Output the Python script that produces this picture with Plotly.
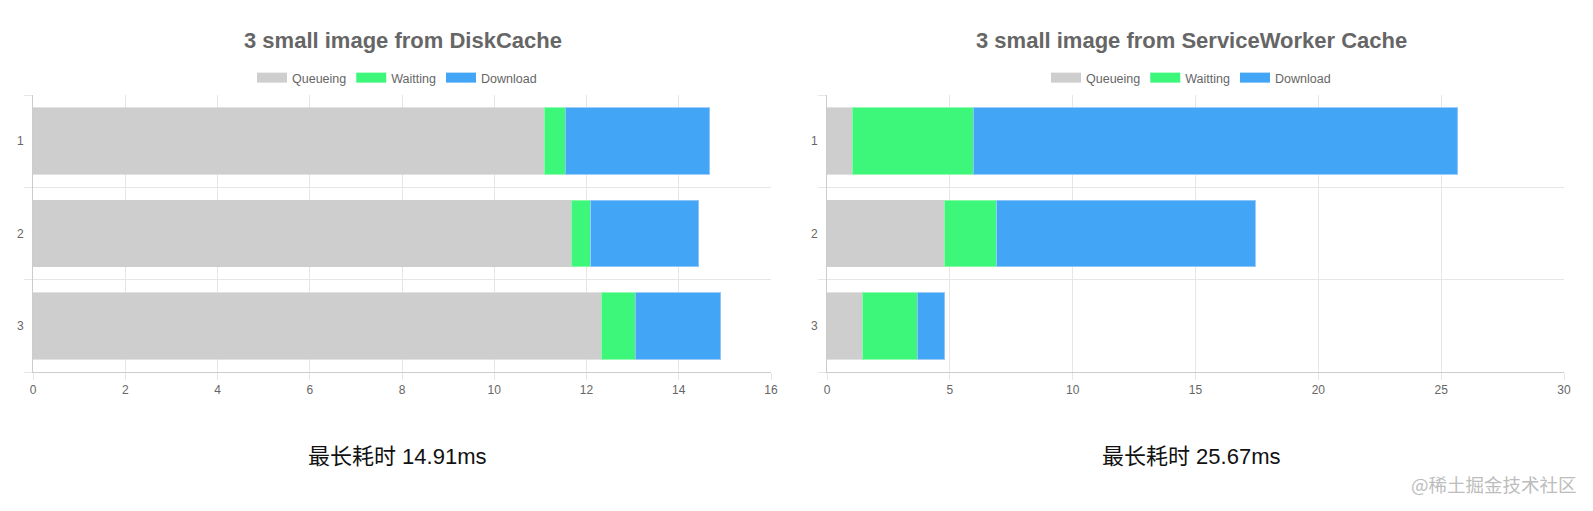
import plotly.graph_objects as go

categories = [1, 2, 3]
series_names = ["Queueing", "Waitting", "Download"]
colors = ["#cecece", "#3cf77a", "#42a5f5"]
border_colors = ["rgba(206,206,206,0.6)", "rgba(140,250,170,0.9)", "rgba(150,200,250,0.9)"]

# Left chart: DiskCache (segment durations, ms)
disk_queueing = [11.08, 11.67, 12.33]
disk_waitting = [0.46, 0.42, 0.73]
disk_download = [3.13, 2.34, 1.85]

# Right chart: ServiceWorker Cache (segment durations, ms)
sw_queueing = [1.03, 4.79, 1.45]
sw_waitting = [4.92, 2.11, 2.23]
sw_download = [19.72, 10.54, 1.11]

left_title = "3 small image from DiskCache"
right_title = "3 small image from ServiceWorker Cache"
left_caption = "最长耗时 14.91ms"
right_caption = "最长耗时 25.67ms"
watermark = "@稀土掘金技术社区"

left_ticks = [0, 2, 4, 6, 8, 10, 12, 14, 16]
right_ticks = [0, 5, 10, 15, 20, 25, 30]
band_edges = [0.5, 1.5, 2.5, 3.5]

FONT = "Liberation Sans, Helvetica, Arial, sans-serif"
CJK = "Liberation Sans, Noto Sans CJK SC, sans-serif"
GRID = "#e6e6e6"
TXT = "#666666"

fig = go.Figure()

for name, vals, col, bcol in zip(series_names, [disk_queueing, disk_waitting, disk_download], colors, border_colors):
    fig.add_trace(go.Bar(y=categories, x=vals, orientation="h", name=name,
                         marker=dict(color=col, line=dict(color=bcol, width=1)),
                         width=0.72, xaxis="x", yaxis="y", showlegend=False))
for name, vals, col, bcol in zip(series_names, [sw_queueing, sw_waitting, sw_download], colors, border_colors):
    fig.add_trace(go.Bar(y=categories, x=vals, orientation="h", name=name,
                         marker=dict(color=col, line=dict(color=bcol, width=1)),
                         width=0.72, xaxis="x2", yaxis="y2", showlegend=False))

# legend entries (wide colour boxes like the reference)
for lg in ["legend", "legend2"]:
    for name, col in zip(series_names, colors):
        fig.add_trace(go.Scatter(x=[None], y=[None], mode="lines", name=name,
                                 line=dict(color=col, width=12),
                                 xaxis="x" if lg == "legend" else "x2",
                                 yaxis="y" if lg == "legend" else "y2",
                                 legend=lg, showlegend=True))

W, H = 1593, 511
ydom = [(H - 372) / H, (H - 95) / H]

def xaxis(dom, rng, ticks, anchor):
    return dict(domain=dom, range=rng, tickvals=ticks, showgrid=True, gridcolor=GRID,
                gridwidth=1, zeroline=False, showline=True, linecolor="#cccccc",
                ticks="outside", ticklen=7, tickcolor=GRID, anchor=anchor, automargin=False,
                tickfont=dict(family=FONT, size=12, color=TXT), fixedrange=True)

def yaxis(anchor):
    return dict(domain=ydom, range=[3.5, 0.5], tickvals=categories,
                ticktext=[str(c) for c in categories], showgrid=False, zeroline=False,
                showline=True, linecolor="#cccccc", ticks="outside", ticklen=6,
                tickcolor="rgba(0,0,0,0)", anchor=anchor, automargin=False,
                tickfont=dict(family=FONT, size=12, color=TXT),
                minor=dict(tickvals=band_edges, showgrid=True, gridcolor=GRID,
                           ticks="outside", ticklen=8, tickcolor=GRID),
                fixedrange=True)

def ann(text, x, y, size, color, family, bold=False):
    return dict(text=("<b>%s</b>" % text) if bold else text, x=x / W, y=1 - y / H,
                xref="paper", yref="paper", xanchor="center", yanchor="middle",
                showarrow=False, font=dict(family=family, size=size, color=color))

legend_common = dict(orientation="h", xanchor="center", yanchor="middle", y=1 - 78 / H,
                     font=dict(family=FONT, size=12.5, color=TXT), itemwidth=30,
                     traceorder="normal", bgcolor="rgba(0,0,0,0)")

fig.update_layout(
    width=W, height=H, margin=dict(l=0, r=0, t=0, b=0, autoexpand=False),
    paper_bgcolor="white", plot_bgcolor="white",
    barmode="stack",
    xaxis=xaxis([33 / W, 771 / W], [0, 16], left_ticks, "y"),
    xaxis2=xaxis([827 / W, 1564 / W], [0, 30], right_ticks, "y2"),
    yaxis=yaxis("x"),
    yaxis2=yaxis("x2"),
    legend=dict(legend_common, x=397 / W),
    legend2=dict(legend_common, x=1191 / W),
    annotations=[
        ann(left_title, 403, 41, 22, TXT, FONT, bold=True),
        ann(right_title, 1191, 41, 22, TXT, FONT, bold=True),
        ann(left_caption, 397, 456, 22, "#111111", CJK),
        ann(right_caption, 1191, 456, 22, "#111111", CJK),
        ann(watermark, 1494, 484, 18.5, "#bdbdbd", "Noto Sans CJK SC, sans-serif"),
    ],
)

fig.write_html("out.html", config={"displayModeBar": False},
               post_script="document.body.style.margin='0';document.body.style.overflow='hidden';")
